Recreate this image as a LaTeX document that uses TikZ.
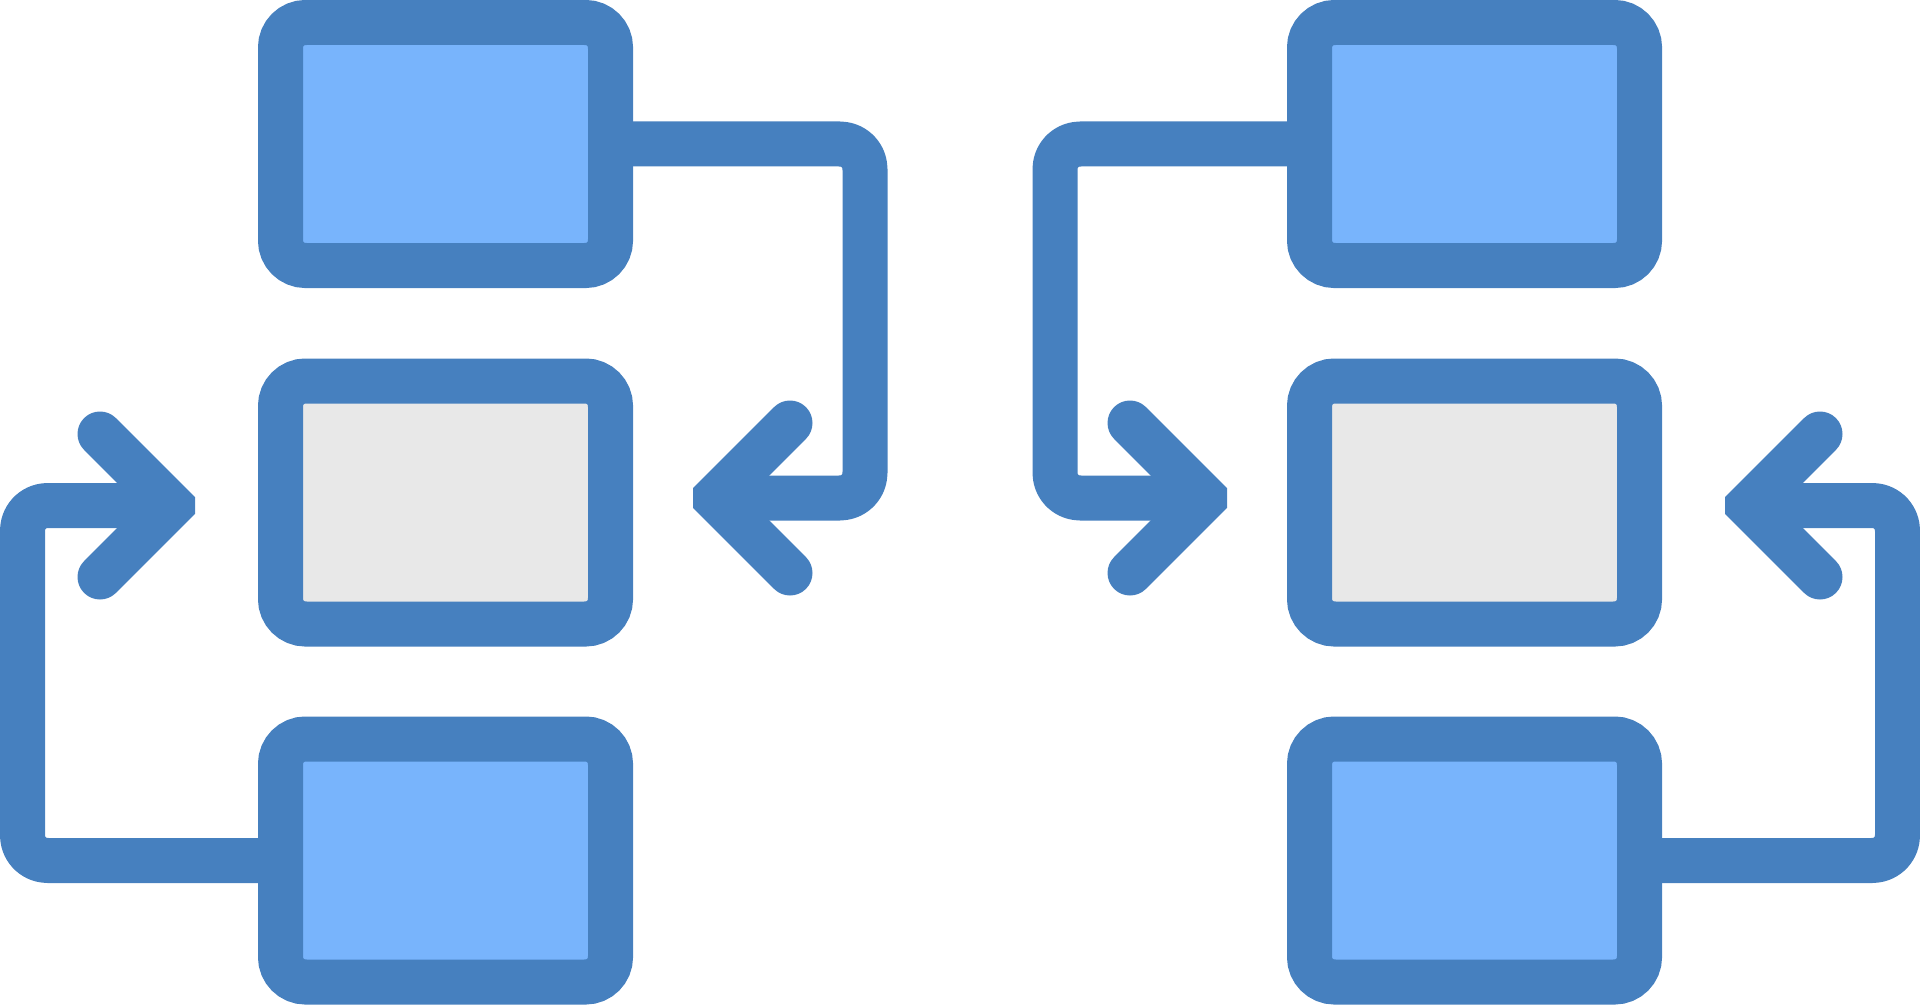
\documentclass[tikz,border=0pt]{standalone}
\usetikzlibrary{calc}
\definecolor{strokeblue}{RGB}{70,128,191}
\definecolor{fillblue}{RGB}{120,180,252}
\definecolor{fillgray}{RGB}{232,232,232}
\tikzset{
  box/.style={draw=strokeblue, line width=45pt, rectangle, rounded corners=25pt,
    minimum width=330pt, minimum height=243pt, inner sep=0pt},
  bluebox/.style={box, fill=fillblue},
  graybox/.style={box, fill=fillgray},
  conn/.style={draw=strokeblue, line width=45pt, rounded corners=25pt, line join=round},
  tipline/.style={draw=strokeblue, line width=45pt, line cap=round, line join=miter, miter limit=10}
}
\begin{document}
\begin{tikzpicture}[x=1pt, y=-1pt]
\useasboundingbox (0,0) rectangle (1920,1006);
% left column
\node[bluebox] (ltop) at (445.5,144) {};
\node[graybox] (lmid) at (445.5,502.5) {};
\node[bluebox] (lbot) at (445.5,860.5) {};
% right column
\node[bluebox] (rtop) at (1474.5,144) {};
\node[graybox] (rmid) at (1474.5,502.5) {};
\node[bluebox] (rbot) at (1474.5,860.5) {};
% arrow tips
\coordinate (t1) at (715,498);
\coordinate (t2) at (171.5,505.5);
\coordinate (t3) at (1205,498);
\coordinate (t4) at (1748.5,505.5);
% connectors
\draw[conn] (ltop.east) -- (865,144) -- (865,498) -- (t1);
\draw[conn] (lbot.west) -- (22.5,860.5) -- (22.5,505.5) -- (t2);
\draw[conn] (rtop.west) -- (1055,144) -- (1055,498) -- (t3);
\draw[conn] (rbot.east) -- (1897.5,860.5) -- (1897.5,505.5) -- (t4);
% arrow heads
\begin{scope}
  \clip (693,0) rectangle (960,1006);
  \draw[tipline] (790,423) -- (t1) -- (790,573);
\end{scope}
\begin{scope}
  \clip (0,0) rectangle (195,1006);
  \draw[tipline] (100,434) -- (t2) -- (100,577);
\end{scope}
\begin{scope}
  \clip (960,0) rectangle (1227,1006);
  \draw[tipline] (1130,423) -- (t3) -- (1130,573);
\end{scope}
\begin{scope}
  \clip (1725,0) rectangle (1920,1006);
  \draw[tipline] (1820,434) -- (t4) -- (1820,577);
\end{scope}
\end{tikzpicture}
\end{document}
